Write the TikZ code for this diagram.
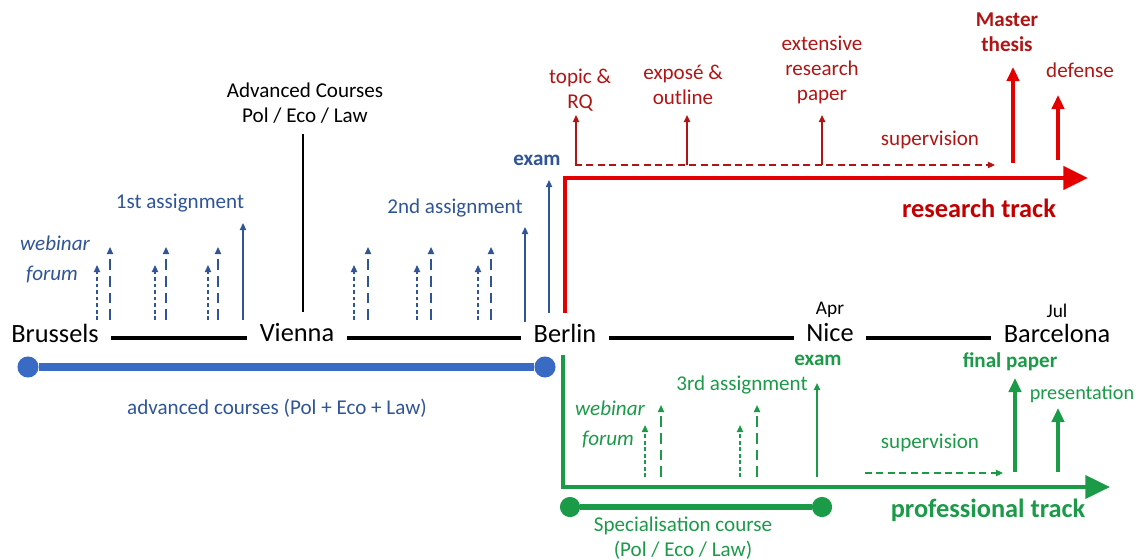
\documentclass[tikz,border=0pt]{standalone}
\usepackage{fontspec}
\setmainfont{Carlito}
\usetikzlibrary{positioning}
\usetikzlibrary{arrows.meta}

\definecolor{tlblue}{HTML}{2F5597}
\definecolor{barblue}{HTML}{3A6BC4}
\definecolor{tlred}{HTML}{B01515}
\definecolor{linered}{HTML}{E50000}
\definecolor{tlgreen}{HTML}{1B9A48}

\tikzset{
  city/.style={font=\fontsize{15}{17}\selectfont, inner sep=1pt},
  month/.style={font=\fontsize{11}{13}\selectfont, inner sep=1pt},
  lbl/.style={font=\fontsize{12}{14.2}\selectfont, align=center, inner sep=1pt},
  boldlbl/.style={lbl, font=\fontsize{12}{14.2}\selectfont\bfseries},
  tracklbl/.style={font=\fontsize{15}{17}\selectfont\bfseries, inner sep=1pt},
  road/.style={line width=2.3pt, shorten <=6pt, shorten >=6pt},
  forumarr/.style={-{Triangle[length=4pt,width=3.5pt]}, line width=1.1pt, dash pattern=on 2.2pt off 1.5pt},
  webarr/.style={-{Triangle[length=4pt,width=3.5pt]}, line width=1.1pt, dash pattern=on 6pt off 3.5pt},
  taskarr/.style={-{Triangle[length=4pt,width=3.5pt]}, line width=1.1pt},
  superarr/.style={-{Triangle[length=4pt,width=3.5pt]}, line width=1.1pt, dash pattern=on 4pt off 2.5pt},
  bigarr/.style={-{Triangle[length=8pt,width=7pt]}, line width=2.3pt},
  dotend/.style={circle, inner sep=0pt, minimum size=12pt},
}

\begin{document}
\begin{tikzpicture}[x=0.02cm, y=-0.02cm]
        \useasboundingbox (0,0) rectangle (1141,560);

        % Stationen
        \node[city] (bru) at (55,333) {Brussels};
        \node[city] (vie) at (297,333) {Vienna};
        \node[city] (ber) at (565,333) {Berlin};
        \node[city] (nic) at (830,333) {Nice};
        \node[city] (bar) at (1057,333) {Barcelona};
        \node[month, above=1pt of nic] (apr) {Apr};
        \node[month, above=1pt of bar] (jul) {Jul};
        \draw[road] ([yshift=-3pt]bru.east) -- ([yshift=-3pt]vie.west);
        \draw[road] ([yshift=-3pt]vie.east) -- ([yshift=-3pt]ber.west);
        \draw[road] ([yshift=-3pt]ber.east) -- ([yshift=-3pt]nic.west);
        \draw[road] ([yshift=-3pt]nic.east) -- ([yshift=-3pt]bar.west);

        % Advanced Courses in Wien
        \node[lbl] (adv) at (305,103) {Advanced Courses\\Pol / Eco / Law};
        \coordinate (advline) at (303,312);
        \draw[line width=1.2pt] ([yshift=-5pt]adv.south -| advline) -- (advline);

        % advanced courses Balken
        \node[dotend, fill=barblue] (ab1) at (28,367) {};
        \node[dotend, fill=barblue] (ab2) at (545,367) {};
        \draw[barblue, line width=4pt] (ab1) -- (ab2);
        \node[lbl, text=tlblue] (advlbl) at (277,408) {advanced courses (Pol + Eco + Law)};

        % webinar / forum Pfeile (blau)
        \foreach \xf/\xw [count=\i] in {97/110, 155/166, 208/218, 354/368, 417/431, 478/491} {
          \coordinate (bf\i a) at (\xf,320);
          \coordinate (bf\i b) at (\xf,265);
          \coordinate (bw\i a) at (\xw,320);
          \coordinate (bw\i b) at (\xw,247);
          \draw[forumarr, tlblue] (bf\i a) -- (bf\i b);
          \draw[webarr, tlblue] (bw\i a) -- (bw\i b);
        }
        \node[lbl, text=tlblue, font=\fontsize{12}{14.2}\selectfont\itshape] (bweb) at (55,243) {webinar};
        \node[lbl, text=tlblue, font=\fontsize{12}{14.2}\selectfont\itshape] (bfor) at (52,275) {forum};

        % assignments und exam
        \coordinate (as1a) at (243,320);
        \coordinate (as1b) at (243,223);
        \coordinate (as2a) at (525,322);
        \coordinate (as2b) at (525,227);
        \coordinate (exa) at (549,313);
        \coordinate (exb) at (549,180);
        \draw[taskarr, tlblue] (as1a) -- (as1b);
        \draw[taskarr, tlblue] (as2a) -- (as2b);
        \draw[taskarr, tlblue] (exa) -- (exb);
        \node[lbl, text=tlblue] (as1) at (180,203) {1st assignment};
        \node[lbl, text=tlblue] (as2) at (455,208) {2nd assignment};
        \node[boldlbl, text=tlblue] (bexam) at (537,160) {exam};

        % research track
        \coordinate (rt0) at (565,313);
        \coordinate (rt1) at (565,178);
        \coordinate (rt2) at (1088,178);
        \draw[linered, line width=2.8pt, -{Triangle[length=14pt,width=13pt]}] (rt0) -- (rt1) -- (rt2);
        \node[tracklbl, text=linered!85!black] (rtrack) at (979,208) {research track};

        % supervision (rot)
        \coordinate (rs0) at (575,165);
        \coordinate (rs1) at (995,165);
        \draw[superarr, tlred] (rs0) -- (rs1);
        \node[lbl, text=tlred] (rsup) at (930,140) {supervision};

        % Meilensteine (rot)
        \coordinate (rq0) at (576,165);
        \coordinate (rq1) at (576,115);
        \coordinate (ex0) at (687,165);
        \coordinate (ex1) at (687,115);
        \coordinate (rp0) at (822,165);
        \coordinate (rp1) at (822,115);
        \draw[taskarr, tlred] (rq0) -- (rq1);
        \draw[taskarr, tlred] (ex0) -- (ex1);
        \draw[taskarr, tlred] (rp0) -- (rp1);
        \node[lbl, text=tlred] (rq) at (580,90) {topic \&\\RQ};
        \node[lbl, text=tlred] (expo) at (683,85) {exposé \&\\outline};
        \node[lbl, text=tlred] (rpap) at (822,70) {extensive\\research\\paper};

        \coordinate (mt0) at (1013,163);
        \coordinate (mt1) at (1013,67);
        \coordinate (df0) at (1058,160);
        \coordinate (df1) at (1058,95);
        \draw[bigarr, linered] (mt0) -- (mt1);
        \draw[bigarr, linered] (df0) -- (df1);
        \node[boldlbl, text=tlred] (mthes) at (1007,32) {Master\\thesis};
        \node[lbl, text=tlred] (defe) at (1080,70) {defense};

        % professional track
        \coordinate (gt0) at (563,355);
        \coordinate (gt1) at (563,487);
        \coordinate (gt2) at (1110,487);
        \draw[tlgreen, line width=2.3pt, -{Triangle[length=14pt,width=13pt]}] (gt0) -- (gt1) -- (gt2);
        \node[tracklbl, text=tlgreen] (ptrack) at (988,510) {professional track};

        % Specialisation Balken
        \node[dotend, fill=tlgreen, minimum size=11.5pt] (sb1) at (570,507) {};
        \node[dotend, fill=tlgreen, minimum size=11.5pt] (sb2) at (822,507) {};
        \draw[tlgreen, line width=3.5pt] (sb1) -- (sb2);
        \node[lbl, text=tlgreen] (spec) at (683,538) {Specialisation course\\(Pol / Eco / Law)};

        % webinar / forum Pfeile (gruen)
        \foreach \xf/\xw [count=\i] in {645/661, 740/757} {
          \coordinate (gf\i a) at (\xf,477);
          \coordinate (gf\i b) at (\xf,425);
          \coordinate (gw\i a) at (\xw,477);
          \coordinate (gw\i b) at (\xw,405);
          \draw[forumarr, tlgreen] (gf\i a) -- (gf\i b);
          \draw[webarr, tlgreen] (gw\i a) -- (gw\i b);
        }
        \node[lbl, text=tlgreen, font=\fontsize{12}{14.2}\selectfont\itshape] (gweb) at (610,408) {webinar};
        \node[lbl, text=tlgreen, font=\fontsize{12}{14.2}\selectfont\itshape] (gfor) at (608,440) {forum};

        \coordinate (gx0) at (817,477);
        \coordinate (gx1) at (817,383);
        \draw[taskarr, tlgreen] (gx0) -- (gx1);
        \node[lbl, text=tlgreen] (as3) at (742,385) {3rd assignment};
        \node[boldlbl, text=tlgreen] (gexam) at (818,360) {exam};

        % supervision (gruen)
        \coordinate (gs0) at (865,473);
        \coordinate (gs1) at (1003,473);
        \draw[superarr, tlgreen] (gs0) -- (gs1);
        \node[lbl, text=tlgreen] (gsup) at (930,443) {supervision};

        \coordinate (fp0) at (1015,472);
        \coordinate (fp1) at (1015,378);
        \coordinate (pr0) at (1058,472);
        \coordinate (pr1) at (1058,408);
        \draw[bigarr, tlgreen] (fp0) -- (fp1);
        \draw[bigarr, tlgreen] (pr0) -- (pr1);
        \node[boldlbl, text=tlgreen] (fpap) at (1010,362) {final paper};
        \node[lbl, text=tlgreen, font=\fontsize{11.5}{14}\selectfont] (pres) at (1082,394) {presentation};

    \end{tikzpicture}
\end{document}
